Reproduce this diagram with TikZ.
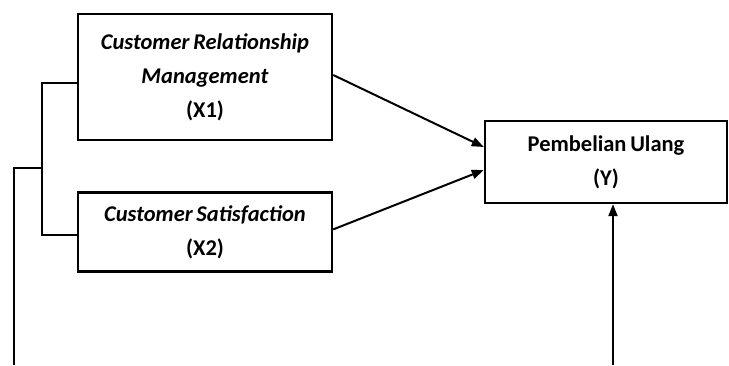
\documentclass[tikz,border=0pt]{standalone}
\usepackage{fontspec}
\setmainfont{Carlito}
\usetikzlibrary{arrows.meta,positioning,calc}

\begin{document}
\begin{tikzpicture}[x=1pt, y=1pt,
    box/.style={draw, line width=2.4pt, align=center, inner sep=0pt, font=\bfseries\fontsize{22.5}{34}\selectfont},
    arrow/.style={-{Triangle[length=12pt,width=9pt]}, line width=2pt},
    link/.style={line width=2pt}
]
\useasboundingbox (0,0) rectangle (729,365);
\node[box, minimum width=254pt, minimum height=126pt] (x1) at (205,288) {\textit{Customer\,Relationship}\\\textit{Management}\\(X1)};
\node[box, minimum width=254pt, minimum height=79pt, below=50pt of x1] (x2) {\textit{Customer\,Satisfaction}\\(X2)};
\node[box, minimum width=242pt, minimum height=82pt] (y) at (606,203) {Pembelian\,Ulang\\(Y)};
\coordinate (spine) at (43,197);
\coordinate (feed) at (14,0);
\coordinate (base) at (613,0);
\draw[link] ([yshift=-6pt]x1.west) -- ++(-35,0) |- ([yshift=-3.5pt]x2.west);
\draw[link] (spine) -| (feed);
\draw[arrow] ([yshift=2pt]x1.east) -- ([yshift=15pt]y.west);
\draw[arrow] ([yshift=2.5pt]x2.east) -- ([yshift=-8pt]y.west);
\draw[arrow] (base) -- (base |- y.south);
\end{tikzpicture}
\end{document}
